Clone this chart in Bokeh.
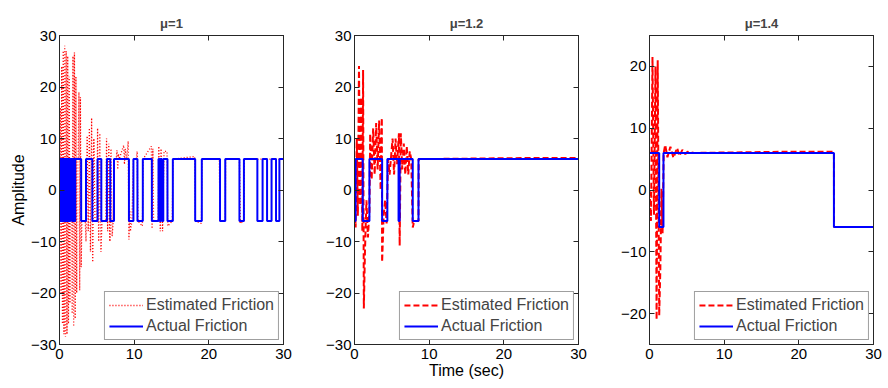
from bokeh.plotting import figure
from bokeh.layouts import row
from bokeh.models import LinearAxis, FixedTicker, Range1d
from bokeh.embed import file_html
from bokeh.resources import INLINE

FONT = "Liberation Sans"

titles = ["\u03bc=1", "\u03bc=1.2", "\u03bc=1.4"]
xticks = [0, 10, 20, 30]
yticks_a = [-30, -20, -10, 0, 10, 20, 30]
yticks_b = [-20, -10, 0, 10, 20]

# ---- mu = 1 ----
act1_t = [0.0, 0.1, 0.2, 0.3, 0.4, 0.5, 0.6, 0.7, 0.8, 0.9, 1.0, 1.1, 1.2, 1.3, 1.45,
          1.66, 1.75, 1.85, 1.95, 2.05, 2.1, 2.9, 3.55, 4.4, 5.1, 5.6, 6.35, 6.8, 7.3,
          9.3, 9.9, 10.44, 11.16, 12.37, 13.26, 13.4, 13.55, 13.7, 13.9, 14.46, 15.18,
          18.17, 19.06, 21.5, 22.2, 24.1, 24.7, 26.5, 27.2, 27.8, 28.4, 29.0, 29.45, 30.0]
act1_v = [6, -6, 6, -6, 6, -6, 6, -6, 6, -6, 6, -6, 6, -6, 6,
          -6, 6, -6, 6, -6, 6, -6, 6, -6, 6, -6, 6, -6, 6,
          -6, 6, -6, 6, -6, 6, -6, 6, -6, 6, -6, 6,
          -6, 6, -6, 6, -6, 6, -6, 6, -6, 6, -6, 6, 6]

est1_t = [0.0, 0.1, 0.2, 0.3, 0.4, 0.5, 0.6, 0.7, 0.8, 0.9, 1.0, 1.1, 1.2, 1.3, 1.4, 1.45, 1.6,
          1.7, 1.8, 1.9, 2.0, 2.1, 2.2, 2.3, 2.35, 2.5,
          2.6, 2.7, 2.8, 2.9, 3.0, 3.45,
          3.55, 3.7, 3.85, 4.0, 4.15, 4.3, 4.45, 4.6, 4.75, 5.0,
          5.1, 5.25, 5.4, 5.55, 5.7, 6.2,
          6.3, 6.45, 6.6, 6.75, 6.9, 7.05, 7.2, 7.3, 7.6,
          7.7, 7.8, 7.9, 8.0, 8.6, 8.7, 8.8, 9.0, 9.2, 9.3, 9.4, 9.5, 9.7, 9.9, 10.3,
          10.4, 10.5, 11.1, 11.2, 12.3, 12.4, 12.5, 12.6, 13.2, 13.3, 13.5, 13.6, 13.8,
          14.0, 14.4, 14.5, 15.1, 15.2, 18.1, 18.2, 19.0, 19.1, 21.4, 21.5, 22.2, 22.25,
          24.1, 24.2, 24.7, 24.75, 30.0]
est1_v = [0, 16, -20, 24, -26, 27, -28, 28, -28.5, 27, -28, 26, -26, 22, -22, 6, 6,
          -24, 26, -26.5, 26.7, -25, 22, -20, 6, 6,
          19, -19.5, 18, -15, -6, -6,
          -10, 10.5, -8, 12, -12, 14, -14, 10, -6, -6,
          12, -10, 11, -12, -6, -6,
          10, -8, 9, -10, 8, -9, -6, 6, 6,
          7.7, 4, 7, 6, 8.7, 5, 8, 6, 9.5, -9.6, -4, -8, -6, 6, 6,
          7.5, -6, -7, 6, 8.5, -7.5, 8, -6, -6, 8.5, -8, 8, -8,
          7.5, 7.5, -7, -6, 6, 6.5, -6, -6.5, 6, 6, -6, -6, 6,
          6, -6.5, -6, 6, 6]

# ---- mu = 1.2 ----
act2_t = [0.0, 0.15, 1.1, 2.0, 3.7, 4.4, 5.9, 5.95, 6.0, 6.05, 7.8, 8.57, 30.0]
act2_v = [-6, 6, -6, 6, -6, 6, -6, 6, -6, 6, -6, 6, 6]

est2_t = [0.0, 0.15, 0.3, 0.45, 0.6, 0.75, 0.9, 1.05, 1.15, 1.25, 1.4, 1.6, 1.8, 2.0,
          2.1, 2.3, 2.5, 2.7, 2.9, 3.1, 3.3, 3.5, 3.66, 3.7, 3.9, 4.1, 4.3, 4.5, 4.7,
          5.1, 5.3, 5.5, 5.7, 5.95, 6.05, 6.2, 6.4, 6.6, 6.8, 7.0, 7.2, 7.4, 7.6, 7.8,
          8.0, 8.57, 8.6, 23.0, 30.0]
est2_v = [0, -7.3, 10, -5, 24.1, -3, 18, -8, 23.3, -23, -12, -2, -9.2, -4,
          10.9, 2, 12, 3, 13, 4, 13.5, 0, 14, -14, -5, -2, -6.5, 6, 3,
          10, 3, 10, 5, 11, -10.8, 11, 4, 9, 3, 8.5, 3, 7.5, 6, -7.3,
          -6, -6, 6, 6.2, 6.2]

# ---- mu = 1.4 ----
act3_t = [0.0, 1.3, 1.87, 24.7, 30.0]
act3_v = [6, -6, 6, -6, -6]

est3_t = [0.0, 0.2, 0.4, 0.6, 0.8, 0.95, 1.1, 1.3, 1.45, 1.6, 1.75, 1.9, 2.1, 2.4,
          2.8, 3.2, 3.7, 4.0, 4.4, 4.8, 5.1, 6.0, 19.0, 24.7, 24.71, 30.0]
est3_v = [0, -5, 21.5, -4, 20, -21, 21, -20.3, -13, 0.2, -7, 6, 7.3, 5.3,
          7, 5.2, 6.8, 5.5, 6.5, 5.8, 6.2, 6, 6.2, 6.2, -6, -6]

DARK = "#262626"


def style_axis(ax, show_labels=True):
    ax.axis_line_color = DARK
    ax.major_tick_line_color = DARK
    ax.minor_tick_line_color = None
    ax.major_tick_in = 5
    ax.major_tick_out = 0
    ax.major_label_text_font = FONT
    ax.major_label_text_color = "black"
    ax.axis_label_text_font = FONT
    ax.axis_label_text_font_style = "normal"
    ax.axis_label_text_font_size = "16px"
    ax.axis_label_text_color = "black"
    if show_labels:
        ax.major_label_text_font_size = "15px"
    else:
        ax.major_label_text_font_size = "1px"
        ax.major_label_text_color = None
        ax.major_label_text_alpha = 0
        ax.major_label_standoff = 0


def make_panel(title, et, ev, at, av, dash, ew, yr, yticks, width, bl, br,
               xlabel=None, ylabel=None):
    p = figure(width=width, height=388, output_backend="svg", toolbar_location=None,
               x_range=Range1d(0, 30), y_range=Range1d(*yr),
               min_border_left=bl, min_border_right=br,
               min_border_top=35, min_border_bottom=44,
               background_fill_color="white", border_fill_color="white")
    p.title.text = title
    p.title.text_font = FONT
    p.title.text_font_size = "13px"
    p.title.text_font_style = "bold"
    p.title.align = "center"
    p.title.standoff = 9
    p.grid.visible = False
    p.outline_line_color = DARK

    p.line(et, ev, line_color="#ff0000", line_width=ew, line_dash=dash,
           legend_label="Estimated Friction")
    p.step(at, av, mode="after", line_color="#0000ff", line_width=2,
           legend_label="Actual Friction")

    p.xaxis.ticker = FixedTicker(ticks=xticks)
    p.yaxis.ticker = FixedTicker(ticks=yticks)
    style_axis(p.xaxis[0])
    style_axis(p.yaxis[0])
    p.xaxis.major_label_standoff = 4
    p.xaxis.axis_label_standoff = 0
    p.yaxis.major_label_standoff = 3
    p.yaxis.axis_label_standoff = 1
    if xlabel:
        p.xaxis.axis_label = xlabel
    if ylabel:
        p.yaxis.axis_label = ylabel

    top = LinearAxis(ticker=FixedTicker(ticks=xticks))
    style_axis(top, show_labels=False)
    p.add_layout(top, "above")
    right = LinearAxis(ticker=FixedTicker(ticks=yticks))
    style_axis(right, show_labels=False)
    p.add_layout(right, "right")

    lg = p.legend[0]
    lg.location = "bottom_right"
    lg.margin = 4
    lg.padding = 4
    lg.spacing = 3
    lg.glyph_width = 34
    lg.glyph_height = 18
    lg.label_height = 18
    lg.label_standoff = 3
    lg.label_text_font = FONT
    lg.label_text_font_size = "16px"
    lg.border_line_color = "#404040"
    lg.border_line_width = 1
    lg.background_fill_color = "white"
    lg.background_fill_alpha = 1
    return p


p1 = make_panel(titles[0], est1_t, est1_v, act1_t, act1_v, "1 2", 1.3,
                (-30, 30), yticks_a, 314, 59, 31, ylabel="Amplitude")
p2 = make_panel(titles[1], est2_t, est2_v, act2_t, act2_v, "6 3", 2,
                (-30, 30), yticks_a, 295, 40, 31, xlabel="Time (sec)")
p3 = make_panel(titles[2], est3_t, est3_v, act3_t, act3_v, "6 3", 2,
                (-25, 25), yticks_b, 279, 40, 15)

layout = row(p1, p2, p3, spacing=0)

with open("out.html", "w") as f:
    f.write(file_html(layout, INLINE))
